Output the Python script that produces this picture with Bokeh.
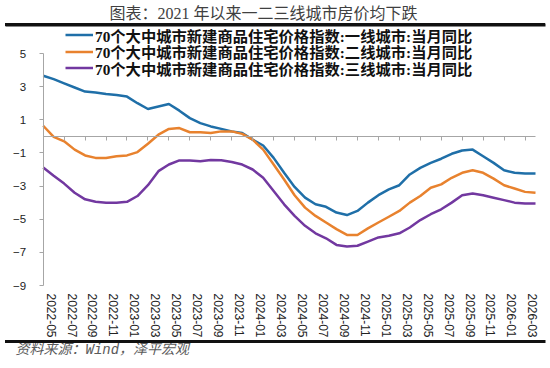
from bokeh.plotting import figure
from bokeh.models import (Range1d, FixedTicker, Label, Legend, LegendItem, LinearAxis)
from bokeh.embed import file_html
from bokeh.resources import INLINE

# ---------------- data ----------------
months = [
    "2022-05", "2022-06", "2022-07", "2022-08", "2022-09", "2022-10", "2022-11", "2022-12",
    "2023-01", "2023-02", "2023-03", "2023-04", "2023-05", "2023-06", "2023-07", "2023-08",
    "2023-09", "2023-10", "2023-11", "2023-12", "2024-01", "2024-02", "2024-03", "2024-04",
    "2024-05", "2024-06", "2024-07", "2024-08", "2024-09", "2024-10", "2024-11", "2024-12",
    "2025-01", "2025-02", "2025-03", "2025-04", "2025-05", "2025-06", "2025-07", "2025-08",
    "2025-09", "2025-10", "2025-11", "2025-12", "2026-01", "2026-02", "2026-03", "2026-04",
]

tier1 = [3.66, 3.45, 3.2, 2.95, 2.7, 2.65, 2.55, 2.5, 2.4, 2.0, 1.65, 1.8,
         1.95, 1.55, 1.1, 0.8, 0.6, 0.45, 0.3, 0.2, -0.2, -0.55, -1.3, -2.2,
         -3.05, -3.7, -4.1, -4.25, -4.6, -4.75, -4.5, -4.0, -3.55, -3.2, -2.95, -2.3,
         -1.9, -1.6, -1.35, -1.05, -0.85, -0.8, -1.2, -1.6, -2.05, -2.2, -2.24, -2.24]

tier2 = [0.64, -0.03, -0.3, -0.8, -1.15, -1.3, -1.3, -1.2, -1.15, -0.95, -0.45, 0.1,
         0.45, 0.5, 0.25, 0.25, 0.2, 0.3, 0.3, 0.15, -0.2, -0.8, -1.7, -2.6,
         -3.55, -4.3, -4.8, -5.2, -5.6, -5.95, -5.95, -5.55, -5.2, -4.85, -4.5, -4.0,
         -3.6, -3.1, -2.9, -2.5, -2.2, -2.05, -2.2, -2.55, -2.95, -3.15, -3.35, -3.4]

tier3 = [-1.88, -2.38, -2.85, -3.4, -3.8, -3.95, -4.0, -4.0, -3.95, -3.6, -2.95, -2.1,
         -1.7, -1.45, -1.45, -1.5, -1.42, -1.44, -1.55, -1.7, -2.0, -2.5, -3.3, -4.1,
         -4.8, -5.4, -5.85, -6.15, -6.55, -6.65, -6.6, -6.35, -6.1, -6.0, -5.85, -5.5,
         -5.05, -4.7, -4.4, -4.0, -3.55, -3.45, -3.55, -3.7, -3.85, -4.0, -4.05, -4.05]

series_names = [
    "70个大中城市新建商品住宅价格指数:一线城市:当月同比",
    "70个大中城市新建商品住宅价格指数:二线城市:当月同比",
    "70个大中城市新建商品住宅价格指数:三线城市:当月同比",
]
y_ticks = [-9, -7, -5, -3, -1, 1, 3, 5]
title_text = "图表：2021 年以来一二三线城市房价均下跌"
source_text = "资料来源：Wind，泽平宏观"

# ---------------- styling / layout (pixels) ----------------
colors = ["#1F6FA8", "#E8822E", "#7238A0"]
W, H = 550, 368
X0_PX = 42.7            # pixel column of the first month (y axis)
X_END_PX = 535.0        # pixel column of the last month
Y_TOP_PX, Y_BOT_PX = 53.0, 285.0   # pixel rows of the top / bottom y ticks
MIX_SERIF = "'Liberation Serif', 'Noto Sans CJK SC', sans-serif"
AXIS_FONT = "'Liberation Sans', Arial, sans-serif"
LABEL_SHIFT = 0.75      # label offset (months) relative to tick marks
AXIS_GREY = "#A6A6A6"
RULE_ROWS_PX = [24.5, 341]          # centre rows of the black horizontal rules
RULE_LEFT_PX, RULE_RIGHT_PX = 5, 545
RULE_COLOR = "#111111"

idx = list(range(len(months)))
even = idx[::2]
ymin, ymax = min(y_ticks), max(y_ticks)
px_per_month = (X_END_PX - X0_PX) / (len(months) - 1)
px_per_unit = (Y_BOT_PX - Y_TOP_PX) / (ymax - ymin)


def dx(px):
    return (px - X0_PX) / px_per_month


def dy(py):
    return ymax - (py - Y_TOP_PX) / px_per_unit


p = figure(width=W, height=H, output_backend="svg", toolbar_location=None,
           x_range=Range1d(dx(0), dx(W)), y_range=Range1d(dy(H), dy(0)),
           min_border=0, min_border_left=0, min_border_right=0,
           min_border_top=0, min_border_bottom=0)
p.outline_line_color = None
p.grid.visible = False
p.background_fill_color = "white"
p.border_fill_color = "white"

# y axis drawn at the first month
yax = p.left[0]
yax.fixed_location = idx[0]
yax.bounds = (ymin, ymax)
yax.ticker = FixedTicker(ticks=y_ticks)
yax.axis_line_color = AXIS_GREY
yax.major_tick_line_color = AXIS_GREY
yax.major_tick_out = 4
yax.major_tick_in = 0
yax.minor_tick_line_color = None
yax.major_label_standoff = 13
yax.major_label_text_font = AXIS_FONT
yax.major_label_text_font_size = "11.5px"
yax.major_label_text_color = "#222222"

# date labels at the bottom of the value range
xax = p.below[0]
xax.fixed_location = ymin
xax.ticker = FixedTicker(ticks=[i + LABEL_SHIFT for i in even])
xax.major_label_overrides = {i + LABEL_SHIFT: months[i] for i in even}
xax.major_label_orientation = "vertical"
xax.axis_line_color = None
xax.major_tick_line_color = None
xax.minor_tick_line_color = None
xax.major_tick_out = 0
xax.major_label_standoff = 8
xax.major_label_text_font = AXIS_FONT
xax.major_label_text_font_size = "12px"
xax.major_label_text_color = "#222222"

# zero line with tick marks
zax = LinearAxis(fixed_location=0, bounds=(idx[0], idx[-1]),
                 ticker=FixedTicker(ticks=even),
                 major_label_overrides={i: "" for i in even},
                 axis_line_color=AXIS_GREY, major_tick_line_color=AXIS_GREY,
                 major_tick_out=4, major_tick_in=0, minor_tick_line_color=None,
                 major_label_text_font_size="1px")
p.add_layout(zax, "below")

# dark horizontal rules above the legend and below the date labels
for row in RULE_ROWS_PX:
    p.line([dx(RULE_LEFT_PX), dx(RULE_RIGHT_PX)], [dy(row), dy(row)],
           line_color=RULE_COLOR, line_width=3)

renderers = []
for ys, c in zip([tier1, tier2, tier3], colors):
    renderers.append(p.line(idx, ys, line_color=c, line_width=2.5))

# one legend per row for exact row placement
row_centers_px = [34, 50.5, 67]
ROW_H = 23
for r, name, cy in zip(renderers, series_names, row_centers_px):
    lg = Legend(items=[LegendItem(label=name, renderers=[r])],
                location=(65, H - cy - ROW_H / 2))
    lg.background_fill_alpha = 0
    lg.border_line_color = None
    lg.padding = 0
    lg.margin = 0
    lg.spacing = 0
    lg.glyph_width = 28
    lg.glyph_height = 17
    lg.label_height = 17
    lg.label_standoff = 2
    lg.label_text_font = MIX_SERIF
    lg.label_text_font_style = "bold"
    lg.label_text_font_size = "15.3px"
    lg.label_text_color = "#111111"
    p.add_layout(lg)

# title and source
p.add_layout(Label(x=dx(263), y=dy(12.5), text=title_text, text_align="center",
                   text_baseline="middle", text_font=MIX_SERIF,
                   text_font_size="16px", text_color="#404040"))
p.add_layout(Label(x=dx(15), y=dy(349), text=source_text, text_align="left",
                   text_baseline="middle",
                   text_font="'Liberation Mono', 'Noto Sans CJK SC', monospace",
                   text_font_style="italic", text_font_size="14px", text_color="#5A5A5A"))

html = file_html(p, INLINE)
# page-level rules overlaid on the chart (same rows as above)
rule_divs = "".join(
    '<div style="position:absolute;left:%dpx;top:%.1fpx;width:%dpx;height:3px;'
    'background:%s;z-index:1000;pointer-events:none"></div>'
    % (RULE_LEFT_PX, row - 1.5, RULE_RIGHT_PX - RULE_LEFT_PX, RULE_COLOR)
    for row in RULE_ROWS_PX)
html = html.replace("</body>", rule_divs + "</body>")
open("out.html", "w").write(html)
